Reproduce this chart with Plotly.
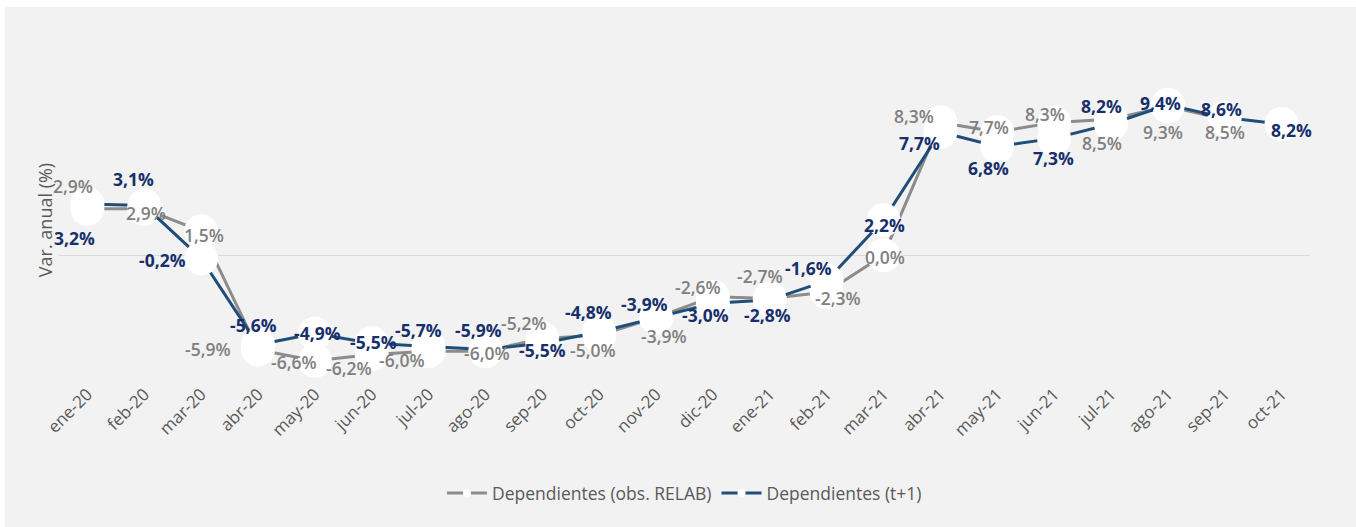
import plotly.graph_objects as go

months = ["ene-20", "feb-20", "mar-20", "abr-20", "may-20", "jun-20", "jul-20", "ago-20",
          "sep-20", "oct-20", "nov-20", "dic-20", "ene-21", "feb-21", "mar-21", "abr-21",
          "may-21", "jun-21", "jul-21", "ago-21", "sep-21", "oct-21"]

obs_relab = [2.9, 2.9, 1.5, -5.9, -6.6, -6.2, -6.0, -6.0, -5.2, -5.0, -3.9, -2.6,
             -2.7, -2.3, 0.0, 8.3, 7.7, 8.3, 8.5, 9.3, 8.5, None]
t_plus_1 = [3.2, 3.1, -0.2, -5.6, -4.9, -5.5, -5.7, -5.9, -5.5, -4.8, -3.9, -3.0,
            -2.8, -1.6, 2.2, 7.7, 6.8, 7.3, 8.2, 9.4, 8.6, 8.2]

name_obs = "Dependientes (obs. RELAB)"
name_t1 = "Dependientes (t+1)"

# label offsets in pixels (dx, dy with dy positive = down)
off_obs = [(-14, -23), (2, 4), (3, 4), (-50, -1), (-21, 1), (-23, 14), (-27, 9), (2, 2),
           (-18, -15), (-6, 15), (8, 18), (-15, -10), (-10, -22), (11, 6), (1, 2),
           (-26, -6), (-8, -5), (-9, -8), (-9, 24), (-5, 26), (0, 13), None]
off_t1 = [(-13, 34), (-11, -27), (-39, 2), (-5, -20), (3, -1), (2, -1), (-10, -16),
          (-7, -20), (0, 7), (-11, -20), (-12, -14), (-7, 12), (-2, 15), (-18, -13),
          (1, 5), (-21, 11), (-9, 22), (-1, 20), (-9, -18), (-7, -2), (-3, -9), (10, 6)]

GRAY_LINE = "#8C8C8C"
BLUE_LINE = "#1F4E79"
GRAY_TXT = "#808080"
BLUE_TXT = "#172F6B"
AXIS_TXT = "#595959"
BG = "#F2F2F2"

fig = go.Figure()

for name, vals, col in [(name_obs, obs_relab, GRAY_LINE), (name_t1, t_plus_1, BLUE_LINE)]:
    fig.add_trace(go.Scatter(
        x=months, y=vals, mode="lines+markers", name=name, showlegend=False,
        line=dict(color=col, width=3),
        marker=dict(size=34, color="white", line=dict(width=0)),
        hoverinfo="skip", connectgaps=False,
    ))

# legend-only traces with small markers
for name, col in [(name_obs, GRAY_LINE), (name_t1, BLUE_LINE)]:
    fig.add_trace(go.Scatter(
        x=[None], y=[None], mode="lines+markers", name=name,
        line=dict(color=col, width=3),
        marker=dict(size=8, color="white", line=dict(width=0)),
    ))

def fmt(v):
    return f"{v:.1f}".replace(".", ",") + "%"

annotations = []
for vals, offs, col, wt in [(obs_relab, off_obs, GRAY_TXT, 600), (t_plus_1, off_t1, BLUE_TXT, 700)]:
    for m, v, o in zip(months, vals, offs):
        if v is None:
            continue
        annotations.append(dict(
            x=m, y=v, xref="x", yref="y", text=fmt(v), showarrow=False,
            xshift=o[0], yshift=-o[1], xanchor="center", yanchor="middle",
            font=dict(family="Open Sans", size=17.5, color=col, weight=wt),
        ))

fig.update_layout(
    width=1356, height=527,
    margin=dict(l=59, r=46, t=60, b=147),
    paper_bgcolor="white",
    plot_bgcolor="rgba(0,0,0,0)",
    font=dict(family="Open Sans", color=AXIS_TXT),
    annotations=annotations,
    shapes=[dict(type="rect", xref="paper", yref="paper", layer="below",
                 x0=(5 - 59) / 1251, x1=(1360 - 59) / 1251,
                 y0=(380 - 530) / 320, y1=(380 - 7) / 320,
                 fillcolor=BG, line=dict(width=0))],
    showlegend=True,
    legend=dict(orientation="h", x=0.5, xanchor="center", y=(380 - 493) / 320,
                yanchor="middle", font=dict(size=17.5, color=AXIS_TXT),
                bgcolor="rgba(0,0,0,0)", itemwidth=40),
    xaxis=dict(type="category", range=[-0.5, 21.5], tickangle=-45, showgrid=False,
               zeroline=False, showline=False, ticks="",
               tickfont=dict(size=17, color=AXIS_TXT)),
    yaxis=dict(range=[-7.8, 12.2], showgrid=False, showticklabels=False, ticks="",
               zeroline=True, zerolinecolor="#D9D9D9", zerolinewidth=1,
               title=dict(text="Var. anual (%)", font=dict(size=18, color=AXIS_TXT), standoff=0)),
)

fig.write_html("out.html", config={"displayModeBar": False},
               post_script="document.body.style.margin='0';")
